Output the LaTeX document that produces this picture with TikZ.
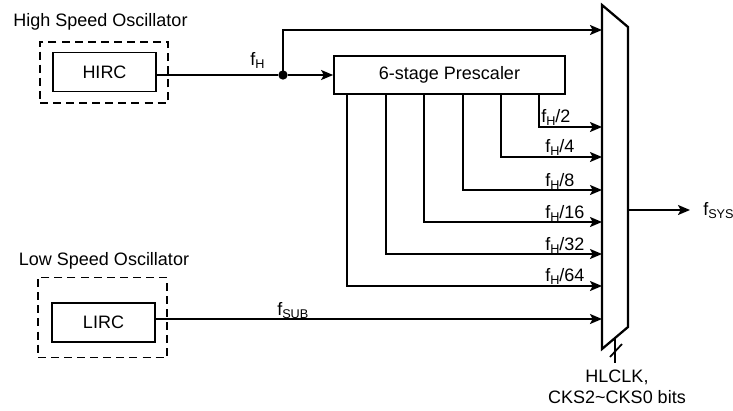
\documentclass[tikz,border=0pt]{standalone}
\usepackage{fontspec}
\setmainfont{Liberation Sans}
\usetikzlibrary{arrows.meta}
\newcommand{\fq}[1]{f\raisebox{-0.32ex}{\fontsize{9.5}{11}\selectfont #1}}
\tikzset{
 wire/.style={line width=1.3pt},
 sig/.style={wire,-{Stealth[length=9pt,width=7.5pt,inset=2pt]}},
 blk/.style={draw,line width=1.3pt},
 osc/.style={draw,line width=1.3pt,dash pattern=on 6pt off 3.8pt},
 txt/.style={inner sep=0pt,font=\fontsize{13.5}{15.75}\selectfont}
}

\begin{document}
\begin{tikzpicture}[x=0.75pt,y=-0.75pt,every node/.style={txt}]
\useasboundingbox (0,0) rectangle (733,411);

%Oscillators
\node [anchor=base] (htitle) at (100.5,26) {High Speed Oscillator};
\node [osc,minimum width=96pt,minimum height=45.75pt] (hosc) at (104,72.5) {};
\node [blk,minimum width=77.25pt,minimum height=29.25pt] (hirc) at (104.5,72) {HIRC};

\node [anchor=base] (ltitle) at (104,265) {Low Speed Oscillator};
\node [osc,minimum width=96.75pt,minimum height=60pt] (losc) at (102.5,317.5) {};
\node [blk,minimum width=77.25pt,minimum height=29.25pt] (lirc) at (103.5,322.5) {LIRC};

%Prescaler
\node [blk,minimum width=173.25pt,minimum height=28.5pt] (pre) at (449.5,75) {6-stage Prescaler};
\node [circle,fill,minimum size=7pt] (dot) at (283,75) {};

%Multiplexer
\coordinate (m1) at (602,5); \coordinate (m2) at (628,27); \coordinate (m3) at (628,327); \coordinate (m4) at (602,349);
\draw [line width=1.7pt,line join=miter] (m1)--(m2)--(m3)--(m4)--cycle;

\coordinate (in0) at (602,30); \coordinate (in1) at (602,127); \coordinate (in2) at (602,157); \coordinate (in3) at (602,190);
\coordinate (in4) at (602,222); \coordinate (in5) at (602,254); \coordinate (in6) at (602,286); \coordinate (in7) at (602,319);
\coordinate (d2) at (539,0); \coordinate (d4) at (501,0); \coordinate (d8) at (463,0);
\coordinate (d16) at (424,0); \coordinate (d32) at (386,0); \coordinate (d64) at (347,0);

\draw [wire] (hirc.east |- dot)--(dot);
\draw [sig] (dot)--(pre.west |- dot);
\draw [sig] (dot.center) |- (in0);
\node [anchor=base west] (fh) at (250,65) {\fq{H}};

\draw [sig] (pre.south -| d2) |- (in1);
\draw [sig] (pre.south -| d4) |- (in2);
\draw [sig] (pre.south -| d8) |- (in3);
\draw [sig] (pre.south -| d16) |- (in4);
\draw [sig] (pre.south -| d32) |- (in5);
\draw [sig] (pre.south -| d64) |- (in6);
\node [anchor=base west] (l2) at (541,122) {\fq{H}/2};
\node [anchor=base west] (l4) at (545,152) {\fq{H}/4};
\node [anchor=base west] (l8) at (545,186) {\fq{H}/8};
\node [anchor=base west] (l16) at (545,218) {\fq{H}/16};
\node [anchor=base west] (l32) at (545,250) {\fq{H}/32};
\node [anchor=base west] (l64) at (545,281) {\fq{H}/64};

\draw [sig] (lirc.east |- in7)--(in7);
\node [anchor=base west] (fsub) at (277,315) {\fq{SUB}};

%Output and select
\coordinate (out) at (628,210); \coordinate (sys) at (690,210);
\draw [sig] (out)--(sys);
\node [anchor=base west] (fsys) at (703,215) {\fq{SYS}};

\coordinate (sel) at (615,338); \coordinate (selb) at (615,363);
\draw [wire] (sel)--(selb); \draw [wire] (610,357)--(622,344);
\node [anchor=north,align=center] (cks) at (617,370) {HLCLK,\\CKS2\textasciitilde CKS0 bits};

\end{tikzpicture}
\end{document}
